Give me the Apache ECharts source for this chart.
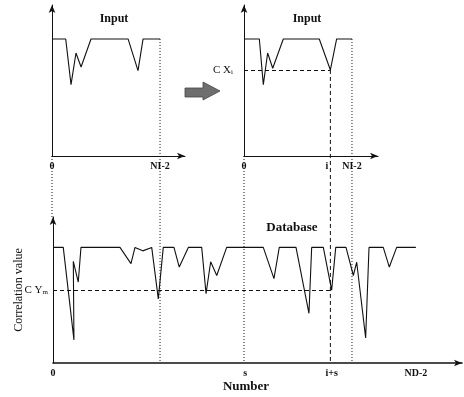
<!DOCTYPE html>
<html>
<head>
<meta charset="utf-8">
<script src="https://cdn.jsdelivr.net/npm/echarts@6/dist/echarts.min.js"></script>
<style>
  html, body { margin: 0; padding: 0; background: #fff; }
  #chart { width: 464px; height: 397px; }
</style>
</head>
<body>
<div id="chart"></div>
<script>
// x = sample number, y = correlation value (1 = full match)
const NI2 = 100      // last input sample
const ND2 = 336      // last database sample
const S = 178        // shift s
const I = 80         // position i of CXi in the input
const CXI = 0.735
const CYM = 0.63

const inputLeft = [
  [0, 1], [12.7, 1], [17.6, 0.61], [22.2, 0.88], [26.9, 0.76], [36.1, 1],
  [70.4, 1], [79.6, 0.73], [84.3, 1], [100, 1],
]
const inputRight = [
  [0, 1], [14.2, 1], [17.9, 0.61], [21.9, 0.88], [26.6, 0.75], [36.4, 1],
  [69.7, 1], [80, 0.735], [85.8, 1], [100, 1],
]
const database = [
  [0, 1], [9.5, 1], [19.4, 0.2], [18.8, 0.88], [23.4, 0.7], [25.9, 1],
  [62, 1], [72.2, 0.86], [75.9, 1], [83.1, 0.97], [91.4, 1], [97.5, 0.555],
  [102.1, 1], [112, 1], [116.9, 0.83], [125.3, 1], [137.7, 1], [141.7, 0.6],
  [146, 0.876], [151.6, 0.757], [160.8, 1], [194.7, 1], [204.6, 0.73],
  [209.5, 1], [225, 1], [237, 0.43], [239.5, 1], [250.3, 1], [258, 0.63],
  [261.8, 1], [271.3, 1], [278.1, 0.757], [281.2, 0.872], [289.5, 0.217],
  [292.6, 1], [305.8, 1], [311.4, 0.83], [318.2, 1], [336, 1],
]

const tlTickVals = [0, NI2]
const tlTickText = ['0', 'NI-2']
const trTickVals = [0, I, NI2]
const trTickText = ['0', '{l|i}', 'NI-2']
const bTickVals = [0, S, I + S, ND2]
const bTickText = ['0', 's', 'i+s', 'ND-2']

const FONT = 'Liberation Serif'
const black = '#111'

function xAxisOf(gridIndex, max, vals, texts, extra) {
  return Object.assign({
    type: 'value',
    gridIndex,
    min: 0,
    max,
    axisLine: {
      show: true,
      symbol: ['none', 'arrow'],
      symbolSize: [5, 8],
      lineStyle: { color: black, width: 1 },
    },
    axisTick: { show: false },
    splitLine: { show: false },
    axisLabel: {
      customValues: vals,
      formatter: v => texts[vals.indexOf(v)],
      color: black,
      fontFamily: FONT,
      fontWeight: 'bold',
      fontSize: 10,
      margin: 5,
      rich: {
        l: { fontFamily: FONT, fontWeight: 'bold', fontSize: 10, color: black, padding: [0, 7, 0, 0] },
      },
    },
  }, extra || {})
}

function yAxisOf(gridIndex, max, extra) {
  return Object.assign({
    type: 'value',
    gridIndex,
    min: 0,
    max,
    axisLine: {
      show: true,
      symbol: ['none', 'arrow'],
      symbolSize: [5, 8],
      lineStyle: { color: black, width: 1 },
    },
    axisTick: { show: false },
    splitLine: { show: false },
    axisLabel: { show: false },
  }, extra || {})
}

function hLine(x1, x2, y) {
  return {
    silent: true,
    symbol: 'none',
    label: { show: false },
    lineStyle: { color: black, type: [4, 3], width: 1 },
    data: [[{ coord: [x1, y] }, { coord: [x2, y] }]],
  }
}

const chart = echarts.init(document.getElementById('chart'))

const option = {
  animation: false,
  backgroundColor: '#fff',
  title: [
    { text: 'Input', left: 114, top: 13, textAlign: 'center' },
    { text: 'Input', left: 307, top: 13, textAlign: 'center' },
    { text: 'Database', left: 292, top: 221, textAlign: 'center' },
    { text: 'Number', left: 246, top: 380, textAlign: 'center' },
  ].map(t => Object.assign(t, {
    padding: 0,
    textStyle: { fontFamily: FONT, fontWeight: 'bold', fontSize: t.text === 'Input' ? 12 : 13, color: black },
  })),
  grid: [
    { left: 52, top: 5, width: 133, height: 151, containLabel: false, outerBoundsMode: 'none' },
    { left: 244, top: 5, width: 134, height: 151, containLabel: false, outerBoundsMode: 'none' },
    { left: 53, top: 217, width: 409, height: 146, containLabel: false, outerBoundsMode: 'none' },
  ],
  xAxis: [
    xAxisOf(0, 123.1, tlTickVals, tlTickText),
    xAxisOf(1, 124.1, trTickVals, trTickText),
    xAxisOf(2, 378.7, bTickVals, bTickText, {
      axisLine: {
        show: true,
        symbol: ['none', 'arrow'],
        symbolSize: [5, 8],
        lineStyle: { color: black, width: 1.6 },
      },
    }),
  ],
  yAxis: [
    yAxisOf(0, 1.29),
    yAxisOf(1, 1.29, {
      axisLabel: {
        customValues: [CXI],
        formatter: () => '{a|C X}{b|i}',
        margin: 11,
        rich: {
          a: { fontFamily: FONT, fontSize: 11, color: black },
          b: { fontFamily: FONT, fontSize: 7, color: black, padding: [4, 0, 0, 0] },
        },
      },
    }),
    yAxisOf(2, 1.263, {
      name: 'Correlation value',
      nameLocation: 'middle',
      nameRotate: 90,
      nameGap: 28,
      nameMoveOverlap: false,
      nameTextStyle: { fontFamily: FONT, fontSize: 12, color: black },
      axisLabel: {
        customValues: [CYM],
        formatter: () => '{a|C Y}{b|m}',
        margin: 5,
        rich: {
          a: { fontFamily: FONT, fontSize: 11, color: black },
          b: { fontFamily: FONT, fontSize: 7, color: black, padding: [4, 0, 0, 0] },
        },
      },
    }),
  ],
  series: [
    {
      type: 'line', xAxisIndex: 0, yAxisIndex: 0, data: inputLeft,
      symbol: 'none', lineStyle: { color: black, width: 1.1 },
    },
    {
      type: 'line', xAxisIndex: 1, yAxisIndex: 1, data: inputRight,
      symbol: 'none', lineStyle: { color: black, width: 1.1 },
      markLine: hLine(0, I, CXI),
    },
    {
      type: 'line', xAxisIndex: 2, yAxisIndex: 2, data: database,
      symbol: 'none', lineStyle: { color: black, width: 1.1 },
      markLine: hLine(0, I + S, CYM),
    },
  ],
}

chart.setOption(option)

// vertical guide lines running from the input plots down to the database axis
const px = (g, x, y) => chart.convertToPixel({ gridIndex: g }, [x, y])
const guides = [
  { from: [0, 0, 0], to: [2, 0, 1.263], dash: [1, 2] },
  { from: [0, NI2, 1], to: [2, NI2, 0], dash: [1, 2] },
  { from: [1, 0, 0], to: [2, S, 0], dash: [1, 2] },
  { from: [1, I, CXI], to: [2, I + S, 0], dash: [4, 3] },
  { from: [1, NI2, 1], to: [2, NI2 + S, 0], dash: [1, 2] },
]
const graphic = guides.map(g => {
  const a = px(g.from[0], g.from[1], g.from[2])
  const b = px(g.to[0], g.to[1], g.to[2])
  return {
    type: 'line',
    silent: true,
    shape: { x1: a[0], y1: a[1], x2: a[0], y2: b[1] },
    style: { stroke: black, lineWidth: 1, lineDash: g.dash },
  }
})
// grey arrow between the two input plots
graphic.push({
  type: 'polygon',
  silent: true,
  shape: { points: [[185, 88], [203, 88], [203, 82], [220, 91], [203, 100], [203, 97], [185, 97]] },
  style: { fill: '#6e6e6e', stroke: '#444', lineWidth: 0.8 },
})
chart.setOption({ graphic })
</script>
</body>
</html>
